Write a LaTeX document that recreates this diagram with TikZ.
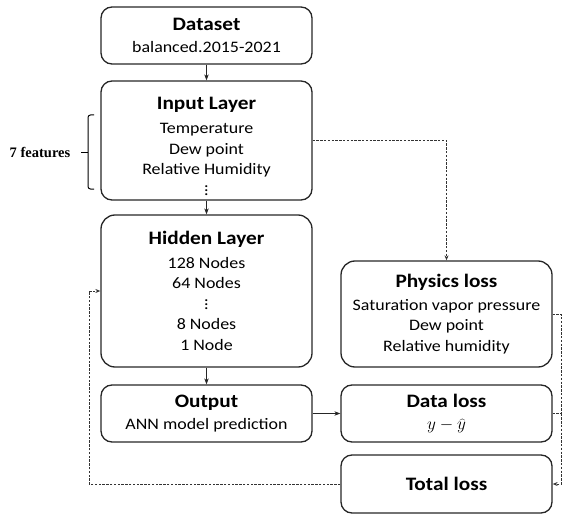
\documentclass[tikz,border=0pt]{standalone}
\usepackage{fontspec}
\setmainfont{Carlito}[FakeStretch=1.12]
\newfontfamily\featurefont{Liberation Serif}
\usetikzlibrary{arrows.meta}
\newcommand\boxtitle[1]{{\fontsize{19}{20.5}\selectfont\bfseries #1}}

\begin{document}
\begin{tikzpicture}[x=1pt, y=-1pt,
		layerbox/.style={draw=black!85, line width=1.3pt, rounded corners=11pt, minimum width=211pt, align=center, inner sep=0pt, font=\fontsize{16}{20.5}\selectfont},
		flow/.style={-{Stealth[length=6pt,width=4.5pt]}, line width=0.8pt, black!85},
		feedback/.style={dash pattern=on 2.4pt off 1.4pt, line width=0.9pt, black!80},
		feedarrow/.style={feedback, -{Stealth[length=5pt,width=4pt]}}]

		\useasboundingbox (0,0) rectangle (562,516);

		\node [layerbox, minimum height=57pt] (dataset) at (206.5,35.5) {\boxtitle{Dataset}\\[2pt] balanced.2015-2021};
		\node [layerbox, minimum height=119pt] (input) at (206.5,140.5) {\boxtitle{\rule{0pt}{24pt}Input Layer}\\[4pt] Temperature\\ Dew point\\ Relative Humidity\\ $\vdots$};
		\node [layerbox, minimum height=152pt, rounded corners=14pt] (hidden) at (206.5,291) {\boxtitle{Hidden Layer}\\[3pt] 128 Nodes\\ 64 Nodes\\ $\vdots$\\ 8 Nodes\\ 1 Node};
		\node [layerbox, minimum height=57pt] (output) at (206.5,413.5) {\boxtitle{Output}\\[2pt] ANN model prediction};

		\node [layerbox, minimum height=106pt, rounded corners=14pt] (physics) at (446.5,314) {\boxtitle{Physics loss}\\[2pt] Saturation vapor pressure\\ Dew point\\ Relative humidity};
		\node [layerbox, minimum height=57pt] (dataloss) at (446.5,413.5) {\boxtitle{Data loss}\\[1pt] $y-\widehat{y}$};
		\node [layerbox, minimum height=58pt] (total) at (446.5,484) {\boxtitle{Total loss}};

		\node [font=\fontsize{14.5}{16}\featurefont\bfseries] (features) at (40,152) {7 features};
		\coordinate (bracetop) at (94,115);
		\coordinate (bracebottom) at (94,189);
		\coordinate (bracetip) at (81,152);
		\draw [line width=1pt, rounded corners=2.5pt] (bracetop) -- ++(-6,0) -- ++(0,74) -- (bracebottom);
		\draw [line width=1pt] (bracetip) -- ++(7,0);

		\draw [flow] (dataset) -- (input);
		\draw [flow] (input) -- (hidden);
		\draw [flow] (hidden) -- (output);
		\draw [flow] (output) -- (dataloss);

		\draw [feedarrow] (input.east) -| (physics.north);

		\coordinate (railright) at (561,314);
		\coordinate (railleft) at (89,484);
		\draw [feedback] (physics.east) -- (railright) -- (railright |- dataloss.east);
		\draw [feedback] (dataloss.east) -- (dataloss.east -| railright);
		\draw [feedarrow] (railright |- dataloss.east) |- (total.east);
		\draw [feedarrow] (total.west) -- (railleft) -- (railleft |- hidden.west) -- (hidden.west);
	\end{tikzpicture}
\end{document}
